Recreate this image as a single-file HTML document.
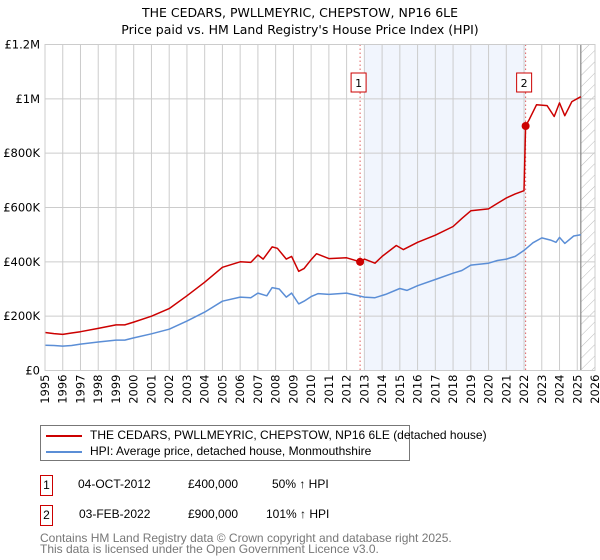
<!DOCTYPE html>
<html><head><meta charset="utf-8">
<style>
body{margin:0;background:#fff;font-family:"DejaVu Sans","Liberation Sans",sans-serif;}
#wrap{position:relative;width:600px;height:560px;overflow:hidden;}
.lib{font-family:"Liberation Sans",sans-serif;}
</style></head>
<body>
<div id="wrap">
<svg id="chart" width="600" height="560" xmlns="http://www.w3.org/2000/svg">
<defs>
<pattern id="hatch" patternUnits="userSpaceOnUse" width="8" height="8" patternTransform="rotate(45)">
<rect width="8" height="8" fill="#fff"/><line x1="0" y1="0" x2="0" y2="8" stroke="#bbb" stroke-width="1"/>
</pattern>
</defs>
<text x="300" y="17" text-anchor="middle" font-size="12.5" fill="#000">THE CEDARS, PWLLMEYRIC, CHEPSTOW, NP16 6LE</text>
<text x="300" y="34" text-anchor="middle" font-size="12.5" fill="#000">Price paid vs. HM Land Registry's House Price Index (HPI)</text>
<g id="plot"></g>
</svg>
<div class="lib" style="position:absolute;left:40px;top:425px;width:368px;height:34px;border:1px solid #777;font-size:12px;">
  <div style="position:absolute;left:5px;top:2px;white-space:nowrap"><span style="display:inline-block;width:36px;height:2px;background:#cc0000;vertical-align:middle;margin-right:8px"></span>THE CEDARS, PWLLMEYRIC, CHEPSTOW, NP16 6LE (detached house)</div>
  <div style="position:absolute;left:5px;top:18px;white-space:nowrap"><span style="display:inline-block;width:36px;height:2px;background:#5b8ed6;vertical-align:middle;margin-right:8px"></span>HPI: Average price, detached house, Monmouthshire</div>
</div>
<div class="lib" style="position:absolute;left:40px;top:475px;width:400px;height:20px;font-size:12px;">
  <div style="position:absolute;left:0;top:0;width:11px;height:19px;border:1px solid #cc0000;text-align:center;line-height:19px">1</div>
  <span style="position:absolute;left:38px;top:2px">04-OCT-2012</span>
  <span style="position:absolute;left:148px;top:2px">£400,000</span>
  <span style="position:absolute;left:232px;top:2px">50% ↑ HPI</span>
</div>
<div class="lib" style="position:absolute;left:40px;top:505px;width:400px;height:20px;font-size:12px;">
  <div style="position:absolute;left:0;top:0;width:11px;height:19px;border:1px solid #cc0000;text-align:center;line-height:19px">2</div>
  <span style="position:absolute;left:39px;top:2px">03-FEB-2022</span>
  <span style="position:absolute;left:148px;top:2px">£900,000</span>
  <span style="position:absolute;left:226px;top:2px">101% ↑ HPI</span>
</div>
<div class="lib" style="position:absolute;left:40px;top:533px;font-size:12px;color:#777;line-height:11px;white-space:nowrap">Contains HM Land Registry data © Crown copyright and database right 2025.<br>This data is licensed under the Open Government Licence v3.0.</div>
</div>
<script>
const yTicks=[0,200,400,600,800,1000,1200];
const yTickLabels=["£0","£200K","£400K","£600K","£800K","£1M","£1.2M"];
const xYears=[1995,1996,1997,1998,1999,2000,2001,2002,2003,2004,2005,2006,2007,2008,2009,2010,2011,2012,2013,2014,2015,2016,2017,2018,2019,2020,2021,2022,2023,2024,2025,2026];
const priceT=[1995,1995.5,1996,1996.5,1997,1998,1999,1999.5,2000,2001,2002,2003,2004,2005,2006,2006.6,2007,2007.3,2007.8,2008.1,2008.6,2008.9,2009.3,2009.6,2010,2010.3,2011,2012,2012.76,2013,2013.6,2014,2014.8,2015.2,2016,2017,2018,2018.5,2019,2020,2020.5,2021,2021.5,2022.0,2022.09,2022.3,2022.7,2023.3,2023.7,2024,2024.3,2024.7,2025.2];
const priceV=[140,136,133,138,143,155,168,168,178,200,228,275,325,380,400,398,425,410,455,450,410,420,365,375,408,430,412,415,400,410,395,420,460,445,472,498,530,560,588,595,615,635,650,662,900,925,978,975,935,985,938,990,1008];
const hpiT=[1995,1995.5,1996,1996.5,1997,1998,1999,1999.5,2000,2001,2002,2003,2004,2005,2006,2006.6,2007,2007.5,2007.8,2008.2,2008.6,2008.9,2009.3,2009.6,2010,2010.4,2011,2012,2013,2013.6,2014.2,2015,2015.4,2016,2017,2018,2018.5,2019,2020,2020.5,2021,2021.5,2022,2022.5,2023,2023.5,2023.8,2024,2024.3,2024.8,2025.2];
const hpiV=[93,92,90,92,97,105,112,112,120,135,152,182,215,255,270,268,285,275,305,300,270,285,245,255,272,283,280,285,270,268,280,302,295,312,335,358,368,388,395,405,410,420,442,470,488,480,472,490,468,495,500];
const sales=[{t:2012.76,v:400,label:"1"},{t:2022.09,v:900,label:"2"}];
const X0=45,X1=595,Y0=370.5,Y1=44.5;
const xs=t=>X0+(t-1995)/(2026-1995)*(X1-X0);
const ys=v=>Y0-v/1200*(Y0-Y1);
const NS="http://www.w3.org/2000/svg";
const g=document.getElementById('plot');
function mk(tag,attrs,parent){const e=document.createElementNS(NS,tag);for(const k in attrs)e.setAttribute(k,attrs[k]);(parent||g).appendChild(e);return e;}
let sh=mk('rect',{x:xs(sales[0].t)+4,y:Y1,width:xs(sales[1].t)-xs(sales[0].t)-4,height:Y0-Y1,fill:'#eef3fc',opacity:0.8});


let ht=mk('rect',{x:xs(2025.2),y:Y1,width:X1-xs(2025.2),height:Y0-Y1,fill:'url(#hatch)'});


yTicks.forEach((v,i)=>{
  let l=mk('line',{x1:X0,x2:X1,y1:ys(v),y2:ys(v),stroke:'#ccc','stroke-width':1});
  
  
  let t=mk('text',{x:X0-5,y:ys(v)+4,'text-anchor':'end','font-size':11.5,fill:'#000'});
  t.textContent=yTickLabels[i];
  
  
});
xYears.forEach(yr=>{
  let l=mk('line',{x1:xs(yr),x2:xs(yr),y1:Y1,y2:Y0,stroke:'#ccc','stroke-width':1});
  
  
  let t=mk('text',{x:0,y:0,'text-anchor':'end','font-size':11.5,fill:'#000',transform:`translate(${xs(yr)+4},${Y0+4}) rotate(-90)`});
  t.textContent=yr;
  
  
});
let vl=mk('line',{x1:xs(2025.2),x2:xs(2025.2),y1:Y1,y2:Y0,stroke:'#888','stroke-width':1.2});


sales.forEach(s=>{
  let l=mk('line',{x1:xs(s.t),x2:xs(s.t),y1:Y1,y2:Y0,stroke:'#e06060','stroke-width':1,'stroke-dasharray':'1.5,2.5'});
  
  
});
function line(T,V,color,name){
  let d=T.map((t,i)=>(i?'L':'M')+xs(t).toFixed(1)+','+ys(V[i]).toFixed(1)).join('');
  let p=mk('path',{d:d,fill:'none',stroke:color,'stroke-width':1.5,'stroke-linejoin':'round'});
  
  
}
line(hpiT,hpiV,'#5b8ed6','hpi-line');
line(priceT,priceV,'#cc0000','price-paid-line');
sales.forEach(s=>{
  let c=mk('circle',{cx:xs(s.t),cy:ys(s.v),r:4,fill:'#cc0000'});
  
  
  let bx=xs(s.t)-9;
  let r=mk('rect',{x:bx,y:73,width:15,height:19,fill:'#fff',stroke:'#cc0000','stroke-width':1});
  
  
  let t=mk('text',{x:bx+7.5,y:87,'text-anchor':'middle','font-size':11,fill:'#000'});
  t.textContent=s.label;
  
  
});
let bd=mk('rect',{x:X0,y:Y1,width:X1-X0,height:Y0-Y1,fill:'none',stroke:'#ccc','stroke-width':1});


</script>
</body></html>
